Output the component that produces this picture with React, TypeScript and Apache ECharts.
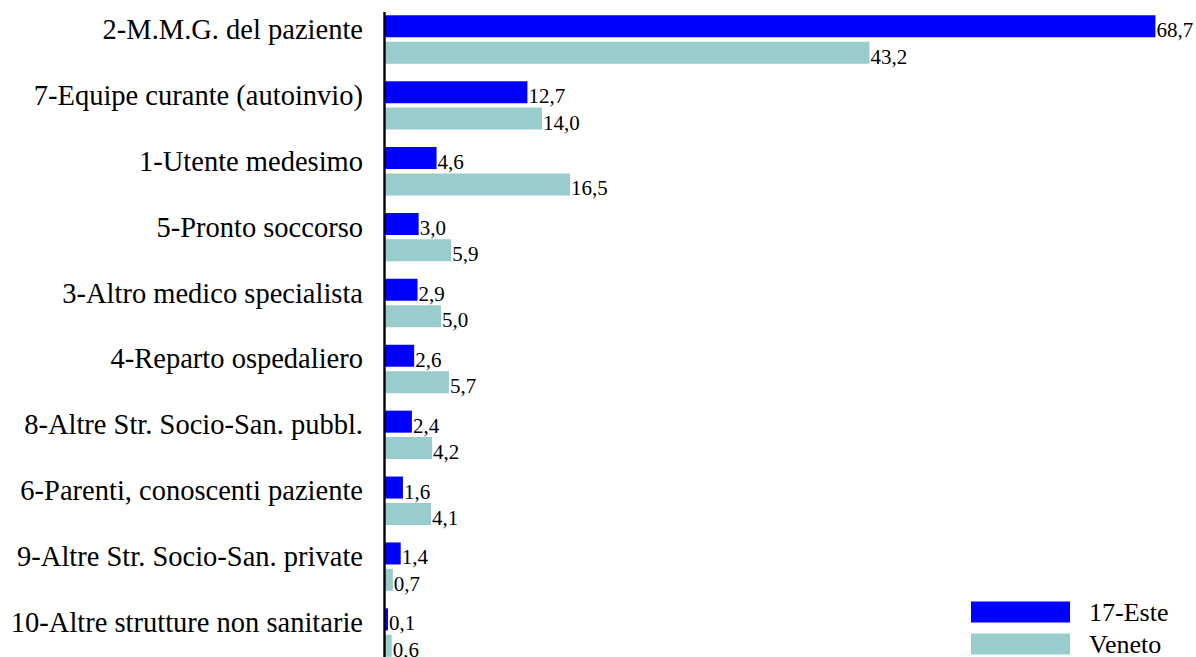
import React, { useEffect, useRef } from "react";
import * as echarts from "echarts";

const categories = [
  "2-M.M.G. del paziente",
  "7-Equipe curante (autoinvio)",
  "1-Utente medesimo",
  "5-Pronto soccorso",
  "3-Altro medico specialista",
  "4-Reparto ospedaliero",
  "8-Altre Str. Socio-San. pubbl.",
  "6-Parenti, conoscenti paziente",
  "9-Altre Str. Socio-San. private",
  "10-Altre strutture non sanitarie",
];
const esteValues = [68.7, 12.7, 4.6, 3.0, 2.9, 2.6, 2.4, 1.6, 1.4, 0.1];
const venetoValues = [43.2, 14.0, 16.5, 5.9, 5.0, 5.7, 4.2, 4.1, 0.7, 0.6];
const seriesNames = ["17-Este", "Veneto"];

const FONT = "Liberation Serif";
const fmt = (v: number) => v.toFixed(1).replace(".", ",");

export default function App() {
  const ref = useRef<HTMLDivElement>(null);
  useEffect(() => {
    if (!ref.current) return;
    const chart = echarts.init(ref.current, undefined, { renderer: "svg" });
    const label = {
      show: true,
      position: "right" as const,
      distance: 1,
      offset: [0, 4],
      color: "#000",
      fontFamily: FONT,
      fontStyle: "normal",
      fontWeight: "normal",
      fontSize: 21,
      formatter: (p: any) => fmt(p.value),
    };
    chart.setOption({
      animation: false,
      backgroundColor: "#fff",
      grid: { left: 385, top: 6.5, width: 785, height: 659, outerBoundsMode: "none" },
      xAxis: { type: "value", min: 0, max: 70, show: false },
      yAxis: {
        type: "category",
        data: categories,
        inverse: true,
        axisLine: { show: false },
        axisTick: { show: false },
        axisLabel: {
          color: "#000",
          fontFamily: FONT,
          fontStyle: "normal",
          fontWeight: "normal",
          fontSize: 28.5,
          margin: 22,
          verticalAlign: "bottom",
          lineHeight: 20,
        },
      },
      legend: {
        orient: "vertical",
        left: 971,
        top: 599,
        padding: 0,
        itemWidth: 99,
        itemHeight: 21,
        itemGap: 6,
        icon: "rect",
        textStyle: {
          color: "#000",
          fontFamily: FONT,
          fontStyle: "normal",
          fontWeight: "normal",
          fontSize: 26,
          lineHeight: 21,
          padding: [0, 0, 0, 14],
        },
        data: seriesNames,
      },
      graphic: [
        {
          type: "line",
          shape: { x1: 384.5, y1: 12, x2: 384.5, y2: 657 },
          style: { stroke: "#000", lineWidth: 2.4 },
          z: 100,
        },
      ],
      series: [
        {
          name: seriesNames[0],
          type: "bar",
          data: esteValues,
          barWidth: 22,
          barGap: "20%",
          barMinHeight: 3,
          itemStyle: { color: "#0000FF" },
          label,
        },
        {
          name: seriesNames[1],
          type: "bar",
          data: venetoValues,
          barWidth: 22,
          barGap: "20%",
          itemStyle: { color: "#99CCCC" },
          label,
        },
      ],
    });
    return () => chart.dispose();
  }, []);
  return (
    <div
      ref={ref}
      style={{ position: "fixed", left: 0, top: 0, width: 1196, height: 657 }}
    />
  );
}
